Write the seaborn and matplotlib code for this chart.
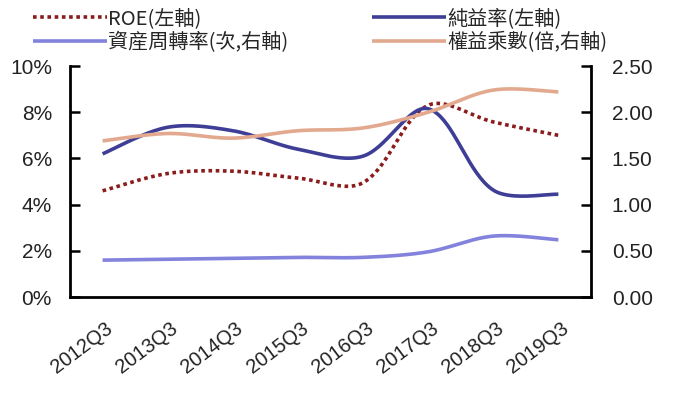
"""
DuPont breakdown chart: ROE, net margin, asset turnover, equity multiplier.
Smoothed lines, ROE / 純益率 on the left axis, the rest on the right.
"""

import matplotlib
matplotlib.use("Agg")
import matplotlib.pyplot as plt
import matplotlib.ticker as mticker
from matplotlib.transforms import ScaledTranslation
import numpy as np
import seaborn as sns

# ── Data ─────────────────────────────────────────────────────────────────────
quarters = ["2012Q3", "2013Q3", "2014Q3", "2015Q3",
            "2016Q3", "2017Q3", "2018Q3", "2019Q3"]
roe = [4.6, 5.35, 5.45, 5.15, 4.95, 8.3, 7.58, 7.0]           # %, left
net_margin = [6.2, 7.35, 7.2, 6.4, 6.1, 8.15, 4.63, 4.45]     # %, left
asset_turnover = [0.40, 0.41, 0.42, 0.43, 0.43, 0.49, 0.66, 0.62]  # right
equity_mult = [1.69, 1.77, 1.72, 1.80, 1.83, 2.0, 2.24, 2.22]      # right

labels = {
    "roe": "ROE(左軸)",
    "nm": "純益率(左軸)",
    "at": "資産周轉率(次,右軸)",
    "em": "權益乘數(倍,右軸)",
}

# ── Style ────────────────────────────────────────────────────────────────────
PALETTE = {
    "roe": "#8B1C1C",
    "nm": "#3E3E96",
    "at": "#8383DE",
    "em": "#E2A98E",
}
CJK = ["Noto Sans CJK TC", "DejaVu Sans"]
NUM = ["Liberation Sans", "DejaVu Sans"]

sns.set_style("white")
plt.rcParams["font.family"] = CJK


def _smooth(values, sx, sy, n=40):
    """Excel-like smoothed line: cubic Bezier through the points, with control
    points scaled by neighbouring chord lengths (measured in pixels)."""
    P = np.column_stack([np.arange(len(values)) * sx, np.asarray(values, float) * sy])
    k = len(P)
    c_in = np.zeros_like(P)
    c_out = np.zeros_like(P)
    for i in range(k):
        if i == 0:
            c_out[i] = P[i] + (P[1] - P[0]) / 6
            continue
        if i == k - 1:
            c_in[i] = P[i] - (P[i] - P[i - 1]) / 6
            continue
        T = P[i + 1] - P[i - 1]
        dp = np.hypot(*(P[i] - P[i - 1]))
        dn = np.hypot(*(P[i + 1] - P[i]))
        c_out[i] = P[i] + T * dn / (dp + dn) / 3
        c_in[i] = P[i] - T * dp / (dp + dn) / 3
    t = np.linspace(0, 1, n)[:, None]
    pts = []
    for i in range(k - 1):
        seg = ((1 - t) ** 3 * P[i] + 3 * (1 - t) ** 2 * t * c_out[i]
               + 3 * (1 - t) * t ** 2 * c_in[i + 1] + t ** 3 * P[i + 1])
        pts.append(seg if i == 0 else seg[1:])
    pts = np.vstack(pts)
    return pts[:, 0] / sx, pts[:, 1] / sy


fig = plt.figure(figsize=(6.8, 3.93), dpi=100)
ax = fig.add_axes([0.103, 0.244, 0.766, 0.588])
ax2 = ax.twinx()

ax.set_xlim(-0.5, len(quarters) - 0.5)
ax.set_ylim(0, 10)
ax2.set_ylim(0, 2.5)

# pixel scale of each axis, so the smoothing matches what is drawn
bb = ax.get_position()
w_px = bb.width * fig.get_figwidth() * fig.dpi
h_px = bb.height * fig.get_figheight() * fig.dpi
sx = w_px / len(quarters)
sy_left = h_px / 10
sy_right = h_px / 2.5

handles = {}
for key, vals, axis, sy, ls in [
    ("roe", roe, ax, sy_left, (0, (1, 1))),
    ("nm", net_margin, ax, sy_left, "-"),
    ("at", asset_turnover, ax2, sy_right, "-"),
    ("em", equity_mult, ax2, sy_right, "-"),
]:
    xs, ys = _smooth(vals, sx, sy)
    sns.lineplot(x=xs, y=ys, ax=axis, color=PALETTE[key], linewidth=2.6,
                 linestyle=ls, sort=False, legend=False)
    line = axis.lines[-1]
    line.set_dash_capstyle("butt")
    line.set_solid_capstyle("butt")
    line.set_label(labels[key])
    handles[key] = line

# left axis
ax.yaxis.set_major_locator(mticker.MultipleLocator(2))
ax.yaxis.set_major_formatter(mticker.FuncFormatter(lambda v, _: f"{v:.0f}%"))

# right axis
ax2.yaxis.set_major_locator(mticker.MultipleLocator(0.5))
ax2.yaxis.set_major_formatter(mticker.FormatStrFormatter("%.2f"))

# category axis: labels at centres, tick marks between categories
ax.set_xticks(range(len(quarters)))
ax.set_xticklabels(quarters, rotation=37, ha="right", va="center",
                   rotation_mode="anchor", family=NUM, fontsize=14.5,
                   color="#222222")
ax.set_xticks(np.arange(0.5, len(quarters) - 1, 1.0), minor=True)
ax.tick_params(axis="x", which="major", length=0, pad=21)
ax.tick_params(axis="x", which="minor", direction="in", length=7, width=1.8,
               color="black")
for lab in ax.get_xticklabels():
    lab.set_transform(lab.get_transform()
                      + ScaledTranslation(8 / 100, 0, fig.dpi_scale_trans))

ax.tick_params(axis="y", direction="in", length=7, width=1.8, pad=13,
               labelsize=15, color="black", labelcolor="#222222")
ax2.tick_params(axis="y", direction="in", length=7, width=1.8, pad=15,
                labelsize=15, color="black", labelcolor="#222222")
for lab in ax.get_yticklabels() + ax2.get_yticklabels():
    lab.set_family(NUM)

for a in (ax, ax2):
    a.spines["top"].set_visible(False)
    for s in ("left", "right", "bottom"):
        a.spines[s].set_linewidth(2)
        a.spines[s].set_color("black")
    a.grid(False)
ax.spines["right"].set_visible(False)
ax2.spines["left"].set_visible(False)
ax2.spines["bottom"].set_visible(False)

order = ["roe", "at", "nm", "em"]
fig.legend([handles[k] for k in order], [labels[k] for k in order],
           ncol=2, loc="upper left", bbox_to_anchor=(0.028, 1.015),
           frameon=False, fontsize=14.5, handlelength=3.65, handletextpad=0.05,
           columnspacing=4.2, labelspacing=0.15, borderpad=0.2)

fig.savefig("out.png", dpi=100)
plt.close(fig)
